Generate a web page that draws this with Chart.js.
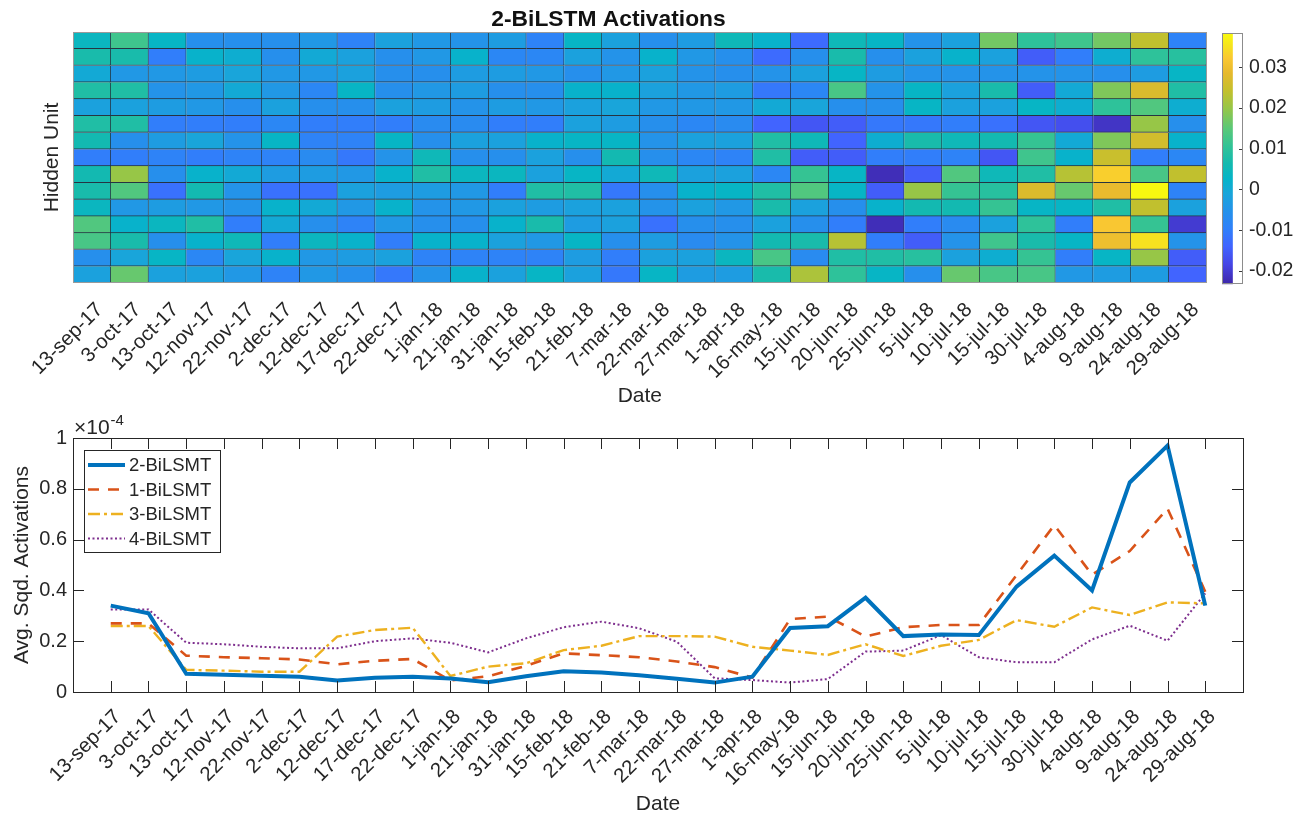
<!DOCTYPE html>
<html><head><meta charset="utf-8">
<script src="https://cdn.jsdelivr.net/npm/chart.js@4.4.1/dist/chart.umd.min.js"></script>
<style>
html,body{margin:0;padding:0;background:#fff;}
#wrap{position:relative;width:1309px;height:819px;overflow:hidden;background:#fff;}
canvas{position:absolute;}
</style></head><body>
<div id="wrap">
<canvas id="heat" width="1220" height="410" style="left:0;top:0;width:1220px;height:410px"></canvas>
<canvas id="cbar" width="87" height="302" style="left:1222px;top:0;width:87px;height:302px"></canvas>
<canvas id="lines" width="1309" height="409" style="left:0;top:410px;width:1309px;height:409px"></canvas>
</div>
<script>
// ---------- data ----------
const dates = ['13-sep-17','3-oct-17','13-oct-17','12-nov-17','22-nov-17','2-dec-17','12-dec-17','17-dec-17','22-dec-17','1-jan-18','21-jan-18','31-jan-18','15-feb-18','21-feb-18','7-mar-18','22-mar-18','27-mar-18','1-apr-18','16-may-18','15-jun-18','20-jun-18','25-jun-18','5-jul-18','10-jul-18','15-jul-18','30-jul-18','4-aug-18','9-aug-18','24-aug-18','29-aug-18'];

// heat map: one row per hidden unit (top to bottom), one value per date
const hiddenUnitActivations = [
 [0.004,0.012,0.003,-0.006,-0.006,-0.006,-0.004,-0.009,-0.002,-0.004,-0.005,-0.003,-0.009,0.003,-0.002,-0.006,-0.003,0.005,0.002,-0.013,0.005,0.003,-0.005,-0.002,0.017,0.010,0.012,0.017,0.024,-0.009],
 [0.007,0.007,-0.010,0.002,0.001,-0.006,0.000,-0.002,-0.006,-0.004,0.002,-0.008,-0.008,-0.002,-0.005,0.002,-0.004,-0.006,-0.013,-0.006,0.007,-0.006,-0.002,0.002,-0.002,-0.015,-0.010,0.001,0.010,0.009],
 [0.000,-0.004,-0.004,-0.003,-0.001,-0.004,-0.004,-0.002,-0.006,-0.006,-0.003,-0.003,-0.004,-0.006,-0.004,-0.002,-0.005,-0.006,-0.005,-0.002,0.003,-0.003,-0.005,-0.005,-0.005,-0.005,-0.005,-0.006,-0.003,0.003],
 [0.008,0.008,-0.005,-0.004,0.000,-0.004,-0.008,0.003,-0.006,-0.004,-0.003,-0.006,-0.006,0.002,0.002,-0.002,-0.004,-0.003,-0.011,-0.008,0.013,-0.005,0.003,-0.002,0.007,-0.015,0.000,0.018,0.027,0.008],
 [-0.002,-0.002,-0.003,-0.004,-0.006,-0.002,-0.006,-0.006,-0.002,-0.003,-0.005,-0.003,-0.004,-0.002,-0.001,-0.004,-0.004,-0.004,0.000,-0.001,-0.006,-0.006,0.003,-0.002,-0.002,0.003,0.001,0.010,0.014,0.001],
 [0.008,0.008,-0.010,-0.010,-0.010,-0.008,-0.010,-0.010,-0.010,-0.007,-0.007,-0.010,-0.010,-0.002,-0.003,-0.006,-0.008,-0.007,-0.014,-0.016,-0.015,-0.011,-0.011,-0.010,-0.012,-0.016,-0.017,-0.021,0.020,-0.006],
 [0.006,-0.006,-0.003,-0.001,-0.005,0.003,-0.009,-0.009,0.003,-0.006,-0.002,-0.002,0.002,0.003,0.003,-0.005,-0.002,-0.002,0.008,0.005,-0.014,0.001,0.007,0.005,0.006,0.011,0.000,0.018,0.026,0.002],
 [-0.010,-0.010,-0.009,-0.010,-0.009,-0.009,-0.007,-0.011,-0.005,0.005,-0.006,-0.006,-0.002,-0.006,0.006,-0.006,-0.008,-0.009,0.008,-0.015,-0.015,-0.010,-0.010,-0.009,-0.016,0.012,0.002,0.025,-0.010,-0.008],
 [0.006,0.020,-0.006,0.002,0.000,-0.003,-0.003,-0.004,0.002,0.008,0.004,0.004,-0.002,0.003,0.000,0.005,-0.002,-0.002,-0.008,0.011,0.003,-0.022,-0.015,0.014,0.005,0.008,0.023,0.033,0.013,0.024],
 [0.007,0.014,-0.012,0.006,-0.005,-0.012,-0.012,-0.002,-0.003,-0.003,-0.004,-0.010,0.008,0.008,-0.011,-0.006,0.002,0.003,0.008,0.014,0.003,-0.015,0.020,0.011,0.009,0.027,0.016,0.029,0.038,-0.009],
 [0.004,-0.004,-0.003,-0.004,-0.005,0.002,0.000,-0.004,0.002,-0.005,-0.004,-0.002,-0.003,-0.002,-0.002,-0.005,-0.002,-0.004,0.007,-0.002,-0.006,0.002,0.006,0.006,0.011,0.003,0.003,0.008,0.024,-0.002],
 [0.014,0.002,0.004,0.008,-0.010,0.000,-0.006,-0.009,-0.004,-0.006,-0.006,0.002,0.007,-0.003,-0.002,-0.012,-0.006,-0.006,-0.002,-0.006,-0.010,-0.022,-0.010,-0.007,-0.002,0.010,-0.010,0.032,0.011,-0.020],
 [0.013,0.007,-0.006,0.002,0.005,-0.010,0.004,0.002,-0.010,0.002,0.002,-0.002,-0.004,0.003,-0.006,-0.003,-0.007,-0.005,0.006,0.007,0.023,-0.010,-0.015,-0.005,0.012,0.007,0.003,0.030,0.035,-0.005],
 [-0.006,-0.001,0.003,-0.008,-0.001,0.002,-0.004,-0.003,-0.002,-0.009,-0.009,-0.009,-0.009,-0.003,-0.010,-0.002,-0.002,0.004,0.013,-0.007,0.008,0.008,0.009,-0.002,0.001,0.011,-0.010,0.003,0.020,-0.015],
 [-0.002,0.016,-0.002,-0.002,-0.004,-0.009,-0.004,-0.006,-0.011,-0.005,0.002,-0.002,0.003,-0.002,-0.011,0.003,-0.003,-0.003,0.007,0.022,0.010,0.003,-0.006,0.016,0.013,0.013,-0.004,-0.003,-0.003,-0.014]
];
const colorMin = -0.0233, colorMax = 0.0384;
const colorbarTicks = [-0.02, -0.01, 0, 0.01, 0.02, 0.03];

// line chart values, in units of 1e-4
const seriesLabels = ['2-BiLSMT', '1-BiLSMT', '3-BiLSMT', '4-BiLSMT'];
const twoBiLSTM   = [0.340,0.310,0.072,0.068,0.064,0.060,0.045,0.056,0.060,0.053,0.038,0.062,0.082,0.077,0.066,0.052,0.037,0.060,0.252,0.259,0.371,0.220,0.226,0.224,0.415,0.537,0.400,0.825,0.970,0.340];
const oneBiLSTM   = [0.270,0.270,0.143,0.137,0.133,0.128,0.109,0.123,0.130,0.045,0.062,0.103,0.152,0.145,0.137,0.120,0.098,0.057,0.287,0.297,0.218,0.255,0.264,0.264,0.460,0.657,0.462,0.555,0.722,0.395];
const threeBiLSTM = [0.260,0.260,0.087,0.084,0.080,0.080,0.218,0.244,0.253,0.063,0.100,0.113,0.165,0.182,0.220,0.220,0.218,0.178,0.163,0.146,0.188,0.142,0.182,0.205,0.283,0.257,0.333,0.303,0.353,0.349];
const fourBiLSTM  = [0.325,0.325,0.194,0.188,0.178,0.172,0.172,0.200,0.211,0.194,0.156,0.211,0.255,0.277,0.251,0.198,0.054,0.047,0.037,0.051,0.159,0.163,0.224,0.137,0.117,0.117,0.207,0.261,0.202,0.388];
const yTicks = [0, 0.2, 0.4, 0.6, 0.8, 1];

// ---------- styling helpers ----------
const FONT = '"Liberation Sans", Arial, Helvetica, sans-serif';
Chart.defaults.font.family = FONT;
Chart.defaults.color = '#262626';
Chart.defaults.animation = false;

const parulaStops = [
 [0.00,[62,38,168]],[0.08,[70,70,230]],[0.15,[65,100,255]],[0.22,[48,128,250]],
 [0.30,[35,148,232]],[0.36,[25,165,218]],[0.42,[5,180,200]],[0.48,[20,186,175]],
 [0.55,[50,195,150]],[0.62,[90,200,120]],[0.70,[150,198,72]],[0.77,[195,192,45]],
 [0.84,[230,185,45]],[0.90,[250,200,50]],[0.95,[245,228,30]],[1.00,[249,251,14]]];
function parula(t){
  t = Math.max(0, Math.min(1, t));
  for (let i = 1; i < parulaStops.length; i++) {
    if (t <= parulaStops[i][0]) {
      const [t0, c0] = parulaStops[i-1], [t1, c1] = parulaStops[i];
      const f = (t - t0) / (t1 - t0);
      return 'rgb(' + c0.map((c, k) => Math.round(c + (c1[k] - c) * f)).join(',') + ')';
    }
  }
  return 'rgb(249,251,14)';
}
const colorOf = v => parula((v - colorMin) / (colorMax - colorMin));

// frame plugin (box around plot area), optional inward ticks on the right edge
const framePlugin = {
  id: 'frame',
  afterDraw(chart, args, o) {
    const {ctx, chartArea: a} = chart;
    ctx.save();
    ctx.strokeStyle = o.color || '#999';
    ctx.lineWidth = 1;
    ctx.strokeRect(Math.round(a.left) + 0.5, Math.round(a.top) + 0.5, Math.round(a.right - a.left) - 1, Math.round(a.bottom - a.top) - 1);
    if (o.rightTicks) {
      const ys = chart.scales.y;
      ctx.strokeStyle = o.tickColor || '#444';
      ctx.beginPath();
      ys.ticks.forEach(t => {
        const py = Math.round(ys.getPixelForValue(t.value)) + 0.5;
        ctx.moveTo(a.right - 1, py); ctx.lineTo(a.right - 1 - o.rightTicks, py);
      });
      ctx.stroke();
    }
    ctx.restore();
  }
};

// ---------- heat map ----------
new Chart(document.getElementById('heat'), {
  type: 'bar',
  data: {
    labels: dates,
    datasets: hiddenUnitActivations.map((row, r) => ({
      label: 'unit ' + (r + 1),
      data: row.map(() => [r, r + 1]),
      backgroundColor: row.map(colorOf),
      borderColor: 'rgb(38,52,66)',
      borderWidth: {top: 0, left: 0, right: 1, bottom: 1},
      borderSkipped: false,
      grouped: false,
      barPercentage: 1,
      categoryPercentage: 1
    }))
  },
  plugins: [framePlugin],
  options: {
    responsive: false, devicePixelRatio: 1,
    layout: {padding: {top: 0, left: 0, right: 3, bottom: 0}, autoPadding: false},
    plugins: {
      legend: {display: false}, tooltip: {enabled: false},
      title: {display: true, text: '2-BiLSTM Activations', color: '#111',
              font: {size: 22.8, weight: 'bold', lineHeight: 1.0}, padding: {top: 8, bottom: 1.2}},
      frame: {color: '#9a9a9a'}
    },
    scales: {
      x: {
        type: 'category', offset: true,
        grid: {display: false, drawTicks: false}, border: {display: false},
        ticks: {autoSkip: false, maxRotation: 45, minRotation: 45, padding: 15, labelOffset: 8, font: {size: 20.3}},
        title: {display: true, text: 'Date', font: {size: 21}, padding: {top: 0, bottom: 1.4}},
        afterFit: s => { s.height = 127; }
      },
      y: {
        type: 'linear', min: 0, max: hiddenUnitActivations.length, reverse: true,
        grid: {display: false, drawTicks: false}, border: {display: false},
        ticks: {display: false},
        title: {display: true, text: 'Hidden Unit', font: {size: 21}, padding: {top: 39.4, bottom: 0}},
        afterFit: s => { s.width = 73; }
      }
    }
  }
});

// ---------- colour bar ----------
new Chart(document.getElementById('cbar'), {
  type: 'bar',
  data: {
    labels: [''],
    datasets: [{
      data: [[colorMin, colorMax]],
      backgroundColor: (c) => {
        const ch = c.chart, a = ch.chartArea;
        if (!a) return null;
        const ys = ch.scales.y;
        const y0 = ys.getPixelForValue(colorMin), y1 = ys.getPixelForValue(colorMax);
        const g = ch.ctx.createLinearGradient(0, y0, 0, y1);
        parulaStops.forEach(([t, col]) => g.addColorStop(t, 'rgb(' + col.join(',') + ')'));
        return g;
      },
      borderWidth: 0,
      barPercentage: 1, categoryPercentage: 1
    }]
  },
  plugins: [framePlugin],
  options: {
    responsive: false, devicePixelRatio: 1,
    layout: {padding: {top: 33, bottom: 17, left: 0, right: 0}, autoPadding: false},
    plugins: {legend: {display: false}, tooltip: {enabled: false},
              frame: {color: '#8c8c8c', rightTicks: 3, tickColor: '#3a3a3a'}},
    scales: {
      x: {display: false, offset: false},
      y: {
        type: 'linear', position: 'right', min: colorMin, max: colorMax,
        afterBuildTicks: s => { s.ticks = colorbarTicks.map(v => ({value: v})); },
        grid: {display: false, drawTicks: false},
        border: {display: false},
        ticks: {padding: 6, font: {size: 19.5}, callback: v => String(Math.round(v * 100) / 100)},
        afterFit: s => { s.width = 66; }
      }
    }
  }
});

// ---------- line chart ----------
const innerTicksPlugin = {
  id: 'innerTicks',
  afterDatasetsDraw(chart) {
    const {ctx, chartArea: a, scales: {x, y}} = chart;
    const L = 11;
    ctx.save();
    ctx.strokeStyle = '#262626';
    ctx.lineWidth = 1;
    ctx.beginPath();
    x.ticks.forEach(t => {
      const px = Math.round(x.getPixelForValue(t.value)) + 0.5;
      ctx.moveTo(px, a.bottom); ctx.lineTo(px, a.bottom - L);
      ctx.moveTo(px, a.top); ctx.lineTo(px, a.top + L);
    });
    y.ticks.forEach(t => {
      const py = Math.round(y.getPixelForValue(t.value)) + 0.5;
      ctx.moveTo(a.left, py); ctx.lineTo(a.left + L, py);
      ctx.moveTo(a.right, py); ctx.lineTo(a.right - L, py);
    });
    ctx.stroke();
    ctx.strokeRect(Math.round(a.left) + 0.5, Math.round(a.top) + 0.5, Math.round(a.right - a.left), Math.round(a.bottom - a.top));
    // exponent label
    ctx.fillStyle = '#262626';
    ctx.textBaseline = 'alphabetic';
    ctx.textAlign = 'left';
    ctx.font = '21px ' + FONT;
    const base = a.top - 4;
    ctx.fillText('\u00d710', a.left + 1, base);
    const w = ctx.measureText('\u00d710').width;
    ctx.font = '15px ' + FONT;
    ctx.fillText('-4', a.left + 1 + w + 1, base - 9);
    ctx.restore();
  }
};
const boxLegendPlugin = {
  id: 'boxLegend',
  afterDraw(chart, args, o) {
    const {ctx, chartArea: a} = chart;
    const x0 = Math.round(a.left + o.offsetX), y0 = Math.round(a.top + o.offsetY);
    ctx.save();
    ctx.fillStyle = '#fff';
    ctx.fillRect(x0, y0, o.width, o.height);
    ctx.strokeStyle = '#262626'; ctx.lineWidth = 1;
    ctx.strokeRect(x0 + 0.5, y0 + 0.5, o.width, o.height);
    chart.data.datasets.forEach((ds, i) => {
      const cy = y0 + o.firstRow + i * o.rowGap;
      ctx.beginPath();
      ctx.setLineDash(ds.borderDash || []);
      ctx.strokeStyle = ds.borderColor; ctx.lineWidth = ds.borderWidth;
      ctx.moveTo(x0 + o.lineStart, cy); ctx.lineTo(x0 + o.lineEnd, cy);
      ctx.stroke();
      ctx.setLineDash([]);
      ctx.fillStyle = '#262626';
      ctx.font = o.fontSize + 'px ' + FONT;
      ctx.textBaseline = 'middle'; ctx.textAlign = 'left';
      ctx.fillText(ds.label, x0 + o.textX, cy + 1);
    });
    ctx.restore();
  }
};
const toPoints = arr => arr.map((v, i) => ({x: i + 1, y: v}));

new Chart(document.getElementById('lines'), {
  type: 'line',
  data: {
    datasets: [
      {label: seriesLabels[0], data: toPoints(twoBiLSTM), borderColor: '#0072BD', borderWidth: 4, borderDash: []},
      {label: seriesLabels[1], data: toPoints(oneBiLSTM), borderColor: '#D95319', borderWidth: 2.6, borderDash: [11, 9]},
      {label: seriesLabels[2], data: toPoints(threeBiLSTM), borderColor: '#EDB120', borderWidth: 2.4, borderDash: [12, 4, 3, 4]},
      {label: seriesLabels[3], data: toPoints(fourBiLSTM), borderColor: '#7E2F8E', borderWidth: 2, borderDash: [2, 2.5]}
    ].map(d => Object.assign(d, {pointRadius: 0, tension: 0, fill: false}))
  },
  plugins: [innerTicksPlugin, boxLegendPlugin],
  options: {
    responsive: false, devicePixelRatio: 1,
    layout: {padding: {top: 28, right: 66, left: 0, bottom: 0}, autoPadding: false},
    plugins: {
      legend: {display: false}, tooltip: {enabled: false},
      boxLegend: {offsetX: 11, offsetY: 12, width: 136, height: 102, firstRow: 15, rowGap: 24.5,
                  lineStart: 4, lineEnd: 41, textX: 45, fontSize: 18.5}
    },
    scales: {
      x: {
        type: 'linear', min: 0, max: dates.length + 1,
        afterBuildTicks: s => { s.ticks = dates.map((d, i) => ({value: i + 1})); },
        grid: {display: false, drawTicks: false}, border: {display: false},
        ticks: {autoSkip: false, maxRotation: 45, minRotation: 45, padding: 13, labelOffset: 7, font: {size: 20.3},
                callback: v => dates[Math.round(v) - 1]},
        title: {display: true, text: 'Date', font: {size: 21}, padding: {top: 0, bottom: 2.4}},
        afterFit: s => { s.height = 127; }
      },
      y: {
        type: 'linear', min: 0, max: 1,
        afterBuildTicks: s => { s.ticks = yTicks.map(v => ({value: v})); },
        grid: {display: false, drawTicks: false}, border: {display: false},
        ticks: {padding: 6, font: {size: 20}, callback: v => String(Math.round(v * 10) / 10)},
        title: {display: true, text: 'Avg. Sqd. Activations', font: {size: 21}, padding: {top: 9.4, bottom: 0}},
        afterFit: s => { s.width = 73; }
      }
    }
  }
});
</script>
</body></html>
